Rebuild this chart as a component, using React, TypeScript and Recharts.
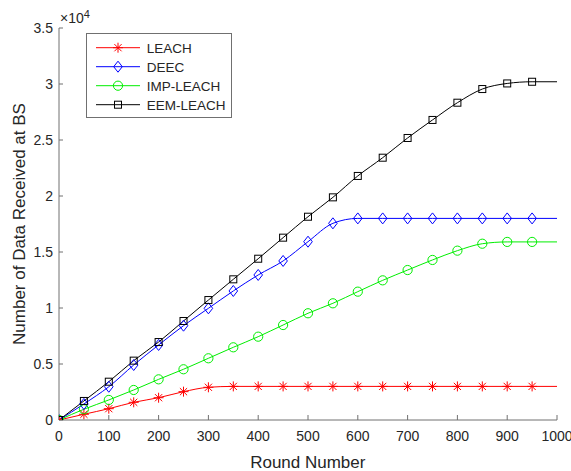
import React from 'react';
import { LineChart, Line, XAxis, YAxis, Legend } from 'recharts';

const rounds = [0, 50, 100, 150, 200, 250, 300, 350, 400, 450, 500, 550, 600, 650, 700, 750, 800, 850, 900, 950, 1000];
const leach = [0, 510, 1010, 1580, 1990, 2530, 2920, 3000, 3000, 3000, 3000, 3000, 3000, 3000, 3000, 3000, 3000, 3000, 3000, 3000, 3000];
const deec = [0, 1430, 2970, 4910, 6700, 8420, 9970, 11520, 12950, 14200, 15920, 17560, 18000, 18000, 18000, 18000, 18000, 18000, 18000, 18000, 18000];
const impLeach = [0, 960, 1790, 2680, 3630, 4530, 5510, 6490, 7440, 8480, 9530, 10420, 11460, 12470, 13390, 14290, 15120, 15740, 15900, 15900, 15900];
const eemLeach = [0, 1700, 3420, 5300, 6960, 8840, 10710, 12560, 14400, 16280, 18150, 19880, 21790, 23420, 25180, 26790, 28330, 29550, 30050, 30200, 30200];

const xTicks = [0, 100, 200, 300, 400, 500, 600, 700, 800, 900, 1000];
const yTicks = [0, 5000, 10000, 15000, 20000, 25000, 30000, 35000];

const data = rounds.map((r, i) => ({
  round: r,
  leach: leach[i],
  deec: deec[i],
  imp: impLeach[i],
  eem: eemLeach[i],
}));

const FONT = '"Liberation Sans", Arial, Helvetica, sans-serif';
const TEXT = '#262626';
const AXIS = '#707070';

type Kind = 'star' | 'diamond' | 'circle' | 'square';
const SERIES: { key: string; name: string; color: string; marker: Kind }[] = [
  { key: 'leach', name: 'LEACH', color: '#ff0000', marker: 'star' },
  { key: 'deec', name: 'DEEC', color: '#0000ff', marker: 'diamond' },
  { key: 'imp', name: 'IMP-LEACH', color: '#00ee00', marker: 'circle' },
  { key: 'eem', name: 'EEM-LEACH', color: '#000000', marker: 'square' },
];

function Marker({ kind, cx, cy, color }: { kind: Kind; cx: number; cy: number; color: string }) {
  if (kind === 'star') {
    const r = 5;
    const d = 3.6;
    return (
      <g stroke={color} strokeWidth={1} fill="none">
        <line x1={cx - r} y1={cy} x2={cx + r} y2={cy} />
        <line x1={cx} y1={cy - r} x2={cx} y2={cy + r} />
        <line x1={cx - d} y1={cy - d} x2={cx + d} y2={cy + d} />
        <line x1={cx - d} y1={cy + d} x2={cx + d} y2={cy - d} />
      </g>
    );
  }
  if (kind === 'diamond') {
    return (
      <polygon
        points={`${cx},${cy - 5.5} ${cx + 4.3},${cy} ${cx},${cy + 5.5} ${cx - 4.3},${cy}`}
        fill="none"
        stroke={color}
        strokeWidth={1}
      />
    );
  }
  if (kind === 'circle') {
    return <circle cx={cx} cy={cy} r={4.6} fill="none" stroke={color} strokeWidth={1} />;
  }
  return <rect x={cx - 3.5} y={cy - 3.5} width={7} height={7} fill="none" stroke={color} strokeWidth={1} />;
}

const makeDot = (kind: Kind, color: string) => (p: any) => {
  const k = `${kind}-${p.index}`;
  if (p.payload.round === 1000 || p.cx == null || p.cy == null) return <g key={k} />;
  return (
    <g key={k}>
      <Marker kind={kind} cx={p.cx} cy={p.cy} color={color} />
    </g>
  );
};

const renderLegend = () => (
  <svg width={146} height={85} style={{ display: 'block' }}>
    <rect x={0.5} y={0.5} width={145} height={84} fill="#ffffff" stroke={AXIS} strokeWidth={1} />
    {SERIES.map((s, i) => {
      const cy = 14.7 + i * 19;
      return (
        <g key={s.key}>
          <line x1={10} y1={cy} x2={54} y2={cy} stroke={s.color} strokeWidth={1} />
          <Marker kind={s.marker} cx={32} cy={cy} color={s.color} />
          <text x={60.7} y={cy + 5} fontSize={13.5} fill={TEXT} fontFamily={FONT}>
            {s.name}
          </text>
        </g>
      );
    })}
  </svg>
);

const yLabel = () => (
  <g>
    <text
      x={25}
      y={224}
      transform="rotate(-90 25 224)"
      textAnchor="middle"
      fontSize={17}
      fill={TEXT}
      fontFamily={FONT}
    >
      Number of Data Received at BS
    </text>
    <text x={60} y={22.5} fontSize={14} fill={TEXT} fontFamily={FONT}>
      ×10
      <tspan dy={-4.5} fontSize={11}>
        4
      </tspan>
    </text>
  </g>
);

const xLabel = () => (
  <text x={307.8} y={468} textAnchor="middle" fontSize={17} fill={TEXT} fontFamily={FONT}>
    Round Number
  </text>
);

export default function App() {
  return (
    <div style={{ position: 'absolute', left: 0, top: 0, width: 571, height: 471, background: '#fff', fontFamily: FONT }}>
      <LineChart width={571} height={471} data={data} margin={{ top: 28, right: 14, bottom: 0, left: 0 }}>
        <XAxis
          dataKey="round"
          type="number"
          domain={[0, 1000]}
          ticks={xTicks}
          interval={0}
          height={51}
          stroke={AXIS}
          tickSize={-5}
          tickMargin={16}
          tick={{ fontSize: 14, fill: TEXT, fontFamily: FONT }}
          label={xLabel}
          allowDataOverflow
        />
        <YAxis
          type="number"
          domain={[0, 35000]}
          ticks={yTicks}
          interval={0}
          width={59}
          stroke={AXIS}
          tickSize={-4}
          tickMargin={10}
          tickFormatter={(v: number) => String(v / 10000)}
          tick={{ fontSize: 14, fill: TEXT, fontFamily: FONT }}
          label={yLabel}
          allowDataOverflow
        />
        <Legend
          layout="horizontal"
          verticalAlign="middle"
          align="center"
          content={renderLegend}
          wrapperStyle={{ left: 86, top: 33, width: 146, height: 85 }}
        />
        {SERIES.map((s) => (
          <Line
            key={s.key}
            dataKey={s.key}
            name={s.name}
            type="monotone"
            stroke={s.color}
            strokeWidth={1}
            dot={makeDot(s.marker, s.color)}
            activeDot={false}
            isAnimationActive={false}
          />
        ))}
      </LineChart>
    </div>
  );
}
